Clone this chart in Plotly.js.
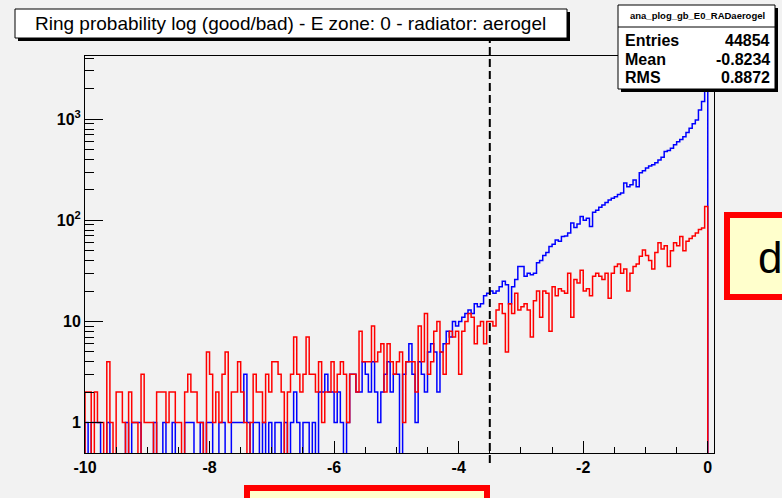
<!DOCTYPE html>
<html><head><meta charset="utf-8">
<script src="https://cdn.plot.ly/plotly-3.0.1.min.js"></script>
<style>html,body{margin:0;padding:0;background:#f2f2f2;}</style>
</head><body><div id="chart" style="width:782px;height:498px;"></div>
<script>
// ---- data (bins of width 0.05 from -10 to 0) ----
const binLow = -10;
const binWidth = 0.05;
// good rings (blue)
const goodCounts = [
  1,0,1,1,1,0,0,1,0,0,
  0,0,0,1,0,1,1,1,0,0,
  0,0,1,0,0,1,0,0,1,0,
  0,0,1,1,1,0,0,1,0,1,
  1,0,0,1,1,0,0,1,1,1,
  1,3,1,0,1,1,0,1,0,1,
  0,1,1,0,1,0,1,2,1,0,
  1,1,0,1,0,2,2,3,2,2,
  1,2,1,0,1,3,3,2,2,4,
  3,2,4,2,1,2,3,4,2,3,
  3,0,3,4,6,3,1,4,3,2,
  5,6,5,2,5,6,8,7,10,9,
  10,11,12,13,12,15,14,15,18,19,
  20,19,20,22,25,23,15,22,26,35,
  35,28,30,29,30,38,40,45,48,55,
  58,64,62,69,70,75,94,85,92,109,
  100,105,87,120,126,135,142,150,159,165,
  171,180,186,234,215,225,251,215,295,310,
  330,345,355,370,396,420,478,490,517,560,
  598,630,671,740,815,900,980,1230,1500,2750
];
// bad rings (red)
const badCounts = [
  2,2,0,2,1,1,0,4,1,0,
  2,2,1,0,2,1,1,0,3,1,
  1,1,0,2,2,2,1,2,2,1,
  1,0,2,3,2,2,1,1,0,5,
  3,1,2,1,3,5,1,2,2,4,
  2,1,0,1,3,2,2,1,3,2,
  4,4,3,2,0,2,3,7,3,2,
  3,7,3,3,2,4,1,2,2,4,
  2,3,4,3,1,3,3,2,8,4,
  4,4,9,4,5,6,2,6,4,3,
  4,5,1,4,4,4,2,9,4,12,
  3,4,8,10,5,3,6,8,7,8,
  3,8,10,12,11,6,9,10,6,10,
  10,9,13,15,12,5,15,12,19,13,
  14,15,13,7,16,20,11,20,19,8,
  22,18,21,20,19,30,11,26,24,32,
  20,21,18,28,30,28,26,30,17,30,
  35,37,30,33,20,30,35,37,44,51,
  45,40,33,48,60,52,56,35,50,60,
  56,69,50,62,66,70,75,81,84,137
];
const xTickVals = [-10,-8,-6,-4,-2,0];
const xTickText = ['-10','-8','-6','-4','-2','0'];
const yTickVals = [1,10,100,1000];
const yTickText = ['1','10','10<sup>2</sup>','10<sup>3</sup>'];
const cutValue = -3.5;
const titleText = 'Ring probability log (good/bad) - E zone: 0 - radiator: aerogel';
const statsName = 'ana_plog_gb_E0_RADaerogel';
const statsLabels = ['Entries','Mean','RMS'];
const statsValues = ['44854','-0.8234','0.8872'];
const sideBoxText = 'd';

// ---- geometry helpers ----
const W = 782, H = 498;
const L = 85, R = 714, T = 56, B = 453;
const px = x => (x - L) / (R - L);
const py = y => (B - y) / (B - T);
const FLOOR = 0.2; // empty bins drawn below axis minimum (log scale)

function stepTrace(counts, color) {
  const xs = [binLow], ys = [FLOOR];
  counts.forEach((c, i) => { xs.push(binLow + i * binWidth); ys.push(c > 0 ? c : FLOOR); });
  const end = binLow + counts.length * binWidth;
  xs.push(end); ys.push(FLOOR);
  xs.push(0.1); ys.push(FLOOR);
  return { x: xs, y: ys, type: 'scatter', mode: 'lines', line: { shape: 'hv', color: color, width: 1.5 },
           hoverinfo: 'skip', showlegend: false };
}

const minorY = [];
[1,10,100,1000].forEach(d => { for (let k = 2; k <= 9; k++) minorY.push(k * d); });

const FONT = 'Liberation Sans, Arial, Helvetica, sans-serif';

const shapes = [
  // cut line
  { type: 'line', xref: 'x', yref: 'paper', x0: cutValue, x1: cutValue, y0: py(463), y1: py(38),
    line: { color: '#000', width: 2, dash: '8px,4px' } },
  // title box shadow + box
  { type: 'rect', xref: 'paper', yref: 'paper', x0: px(18), x1: px(570), y0: py(41), y1: py(12),
    fillcolor: '#000', line: { width: 0 } },
  { type: 'rect', xref: 'paper', yref: 'paper', x0: px(15), x1: px(567), y0: py(38), y1: py(9),
    fillcolor: '#fff', line: { color: '#000', width: 1 } },
  // stats box shadow + box
  { type: 'rect', xref: 'paper', yref: 'paper', x0: px(621), x1: px(778), y0: py(92), y1: py(8),
    fillcolor: '#000', line: { width: 0 } },
  { type: 'rect', xref: 'paper', yref: 'paper', x0: px(618), x1: px(775), y0: py(89), y1: py(5),
    fillcolor: '#fff', line: { color: '#000', width: 1 } },
  { type: 'line', xref: 'paper', yref: 'paper', x0: px(618), x1: px(775), y0: py(27), y1: py(27),
    line: { color: '#000', width: 1 } },
  // overlay boxes (slide annotations)
  { type: 'rect', xref: 'paper', yref: 'paper', x0: px(727), x1: px(800), y0: py(297), y1: py(215),
    fillcolor: '#ffffcc', line: { color: '#ff0000', width: 6 } },
  { type: 'rect', xref: 'paper', yref: 'paper', x0: px(247), x1: px(487), y0: py(530), y1: py(488),
    fillcolor: '#ffffcc', line: { color: '#ff0000', width: 6 } }
];

const annotations = [
  { xref: 'paper', yref: 'paper', x: px(290), y: py(23), text: titleText, showarrow: false,
    xanchor: 'center', yanchor: 'middle', font: { family: FONT, size: 19, color: '#000' } },
  { xref: 'paper', yref: 'paper', x: px(697), y: py(16), text: '<b>' + statsName + '</b>', showarrow: false,
    xanchor: 'center', yanchor: 'middle', font: { family: FONT, size: 9.5, color: '#000' } },
  { xref: 'paper', yref: 'paper', x: px(756), y: py(257), text: sideBoxText, showarrow: false,
    xanchor: 'left', yanchor: 'middle', font: { family: FONT, size: 44, color: '#000' } }
];
statsLabels.forEach((lab, i) => {
  const yy = 40 + i * 19;
  annotations.push({ xref: 'paper', yref: 'paper', x: px(623), y: py(yy), text: '<b>' + lab + '</b>', showarrow: false,
    xanchor: 'left', yanchor: 'middle', font: { family: FONT, size: 16, color: '#000' } });
  annotations.push({ xref: 'paper', yref: 'paper', x: px(772), y: py(yy), text: '<b>' + statsValues[i] + '</b>', showarrow: false,
    xanchor: 'right', yanchor: 'middle', font: { family: FONT, size: 16, color: '#000' } });
});

const layout = {
  width: W, height: H,
  margin: { l: L, r: W - R, t: T, b: H - B, pad: 0 },
  paper_bgcolor: '#f2f2f2', plot_bgcolor: '#f2f2f2',
  showlegend: false,
  xaxis: {
    range: [-10, 0.1], tickmode: 'array', tickvals: xTickVals, ticktext: xTickText,
    ticks: 'inside', ticklen: 12, tickwidth: 1, tickcolor: '#000',
    showline: true, linecolor: '#000', linewidth: 1, mirror: true,
    showgrid: false, zeroline: false,
    tickfont: { family: FONT, size: 16, color: '#000', weight: 'bold' },
    minor: { dtick: 0.5, tick0: 0, ticks: 'inside', ticklen: 6, tickcolor: '#000', showgrid: false }
  },
  yaxis: {
    type: 'log', range: [Math.log10(0.5), 3.625], tickmode: 'array', tickvals: yTickVals, ticktext: yTickText,
    ticks: 'inside', ticklen: 18, tickwidth: 1, tickcolor: '#000',
    showline: true, linecolor: '#000', linewidth: 1, mirror: true,
    showgrid: false, zeroline: false,
    tickfont: { family: FONT, size: 16, color: '#000', weight: 'bold' },
    minor: { tickmode: 'array', tickvals: minorY, ticks: 'inside', ticklen: 9, tickcolor: '#000', showgrid: false }
  },
  shapes: shapes,
  annotations: annotations
};

Plotly.newPlot('chart', [stepTrace(goodCounts, '#0000ff'), stepTrace(badCounts, '#ff0000')], layout,
  { staticPlot: true, displayModeBar: false });
</script></body></html>
